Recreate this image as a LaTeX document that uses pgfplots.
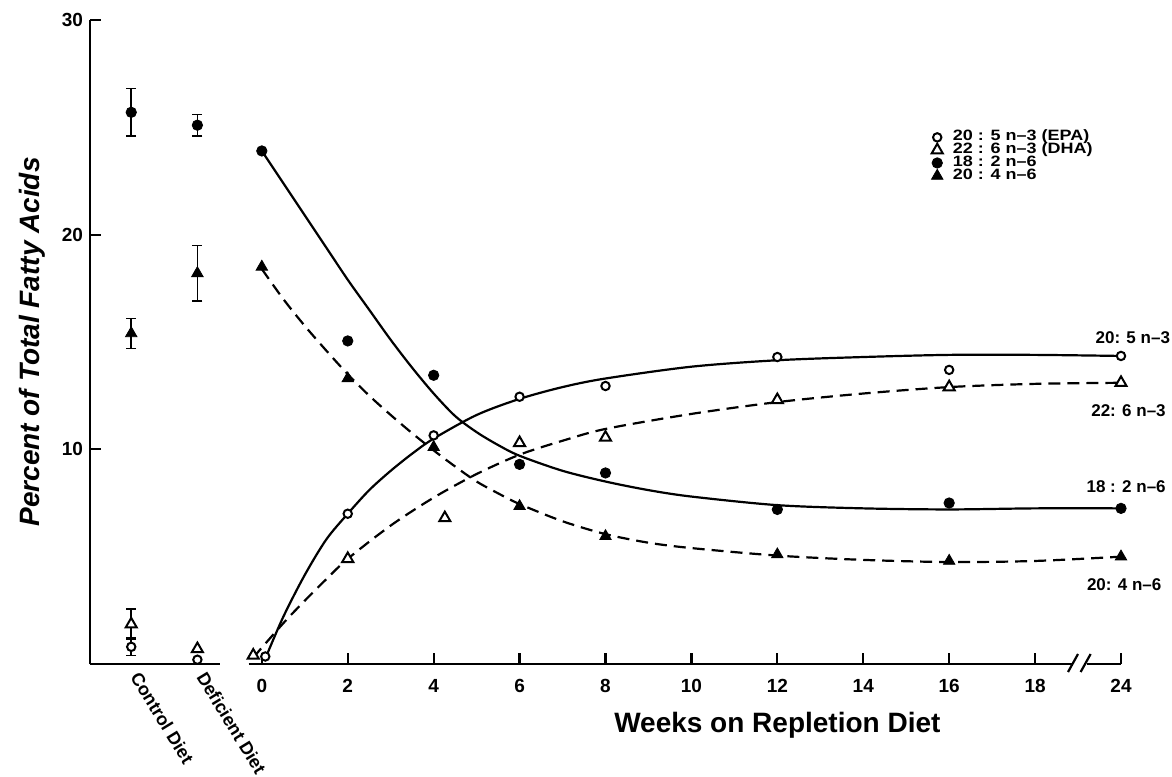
\documentclass[border=0pt]{standalone}
\usepackage{fontspec}
\setmainfont{Liberation Sans}
\newfontfamily\legfont[FakeStretch=1.2, Ligatures=TeX]{Liberation Sans}
\usepackage{pgfplots}
\pgfplotsset{compat=1.18}
\begin{document}
\begin{tikzpicture}
\useasboundingbox (-45pt,-56pt) rectangle (541pt,332pt);
\begin{axis}[
  scale only axis, width=515.5pt, height=322pt,
  xmin=-4, xmax=20, ymin=0, ymax=30,
  axis lines*=left,
  x axis line style={draw=none},
  y axis line style={line width=1.3pt},
  xtick={0,2,...,20}, xticklabels={0,2,4,6,8,10,12,14,16,18,24},
  ytick={10,20,30},
  tick align=inside, major tick length=5.5pt,
  tick style={line width=1.1pt, black},
  /pgf/number format/assume math mode=true,
  xticklabel style={font=\fontsize{9.5}{10}\selectfont\bfseries, yshift=-4pt},
  yticklabel style={font=\fontsize{9.5}{10}\selectfont\bfseries},
  xlabel={Weeks on Repletion Diet},
  xlabel style={at={(axis description cs:0.6667,0)}, anchor=center, yshift=-30.5pt, font=\fontsize{14}{16}\selectfont\bfseries},
  ylabel={Percent of Total Fatty Acids},
  ylabel style={at={(axis description cs:-0.0563,0.5)}, anchor=center, font=\fontsize{14}{16}\selectfont\bfseries\itshape},
  clip=false,
  legend image code/.code={\draw[#1] plot coordinates {(0.12cm,0cm)};},
  legend style={at={(axis cs:15.58,24.85)}, anchor=north west, draw=none, fill=none, inner sep=0pt,
    row sep=0pt, column sep=5pt,
    nodes={inner sep=0pt, text height=4.9pt, text depth=1.5pt}},
  legend cell align=left,
  ebar/.style={error bars/.cd, y dir=both, y explicit, error mark=-,
    error mark options={rotate=90, line width=0.8pt, mark size=2.5pt}, error bar style={line width=0.8pt}},
]
% x axis line with gap and break
\draw[line width=1.3pt] (axis cs:-4,0) -- (axis cs:-0.98,0);
\draw[line width=1.3pt] (axis cs:-0.31,0) -- (axis cs:18.86,0);
\draw[line width=1.3pt] (axis cs:19.2,0) -- (axis cs:20,0);
\draw[line width=1.1pt] (axis cs:18.86,0) ++(-2pt,-4pt) -- ++(5pt,9pt);
\draw[line width=1.1pt] (axis cs:19.2,0) ++(-3pt,-4pt) -- ++(5pt,9pt);

% fitted curves
\addplot[black, line width=1.1pt, smooth, forget plot] coordinates {
(0,23.9) (0.5,22.4) (1,20.9) (1.5,19.4) (2,17.9) (2.5,16.5) (3,15.1) (3.5,13.8) (4,12.6) (4.5,11.55) (5,10.8) (5.5,10.2) (6,9.7) (7,9.0) (8,8.5) (9,8.1) (10,7.8) (12,7.4) (14,7.25) (16,7.2) (18,7.25) (20,7.25)};
\addplot[black, line width=1.1pt, smooth, dash pattern=on 6pt off 3.5pt, forget plot] coordinates {
(0,18.4) (0.5,17.0) (1,15.75) (1.5,14.6) (2,13.5) (2.5,12.5) (3,11.6) (3.5,10.75) (4,9.95) (4.5,9.2) (5,8.5) (5.5,7.95) (6,7.45) (7,6.65) (8,6.05) (9,5.65) (10,5.4) (12,5.05) (14,4.85) (16,4.75) (18,4.8) (20,5.0)};
\addplot[black, line width=1.1pt, smooth, forget plot] coordinates {
(0.08,0.25) (0.5,2.2) (1,4.15) (1.5,5.8) (2,7.0) (2.5,8.1) (3,9.0) (3.5,9.8) (4,10.5) (5,11.6) (6,12.35) (7,12.9) (8,13.3) (10,13.85) (12,14.15) (14,14.3) (16,14.4) (18,14.4) (20,14.35)};
\addplot[black, line width=1.1pt, smooth, dash pattern=on 6pt off 3.5pt, forget plot] coordinates {
(-0.2,0.3) (0.5,1.9) (1,2.95) (1.5,3.95) (2,4.9) (3,6.45) (4,7.75) (5,8.85) (6,9.75) (7,10.4) (8,10.95) (10,11.65) (12,12.2) (14,12.6) (16,12.9) (18,13.05) (20,13.1)};

% control / deficient diet with error bars
\addplot[only marks, mark=*, mark size=2.6pt, black, forget plot, ebar]
  coordinates {(-3.04,25.7) +- (0,1.1) (-1.5,25.1) +- (0,0.5)};
\addplot[only marks, mark=triangle*, mark size=3.3pt, black, forget plot, ebar]
  coordinates {(-3.04,15.4) +- (0,0.7) (-1.5,18.2) +- (0,1.3)};
\addplot[only marks, mark=triangle*, mark size=3.2pt, black, mark options={fill=white, line width=1pt}, forget plot, ebar]
  coordinates {(-3.04,1.85) +- (0,0.7)};
\addplot[only marks, mark=*, mark size=2.1pt, black, mark options={fill=white, line width=1pt}, forget plot, ebar]
  coordinates {(-3.04,0.8) +- (0,0.4)};
\addplot[only marks, mark=triangle*, mark size=3.2pt, black, mark options={fill=white, line width=1pt}, forget plot]
  coordinates {(-1.5,0.7)};
\addplot[only marks, mark=*, mark size=2.1pt, black, mark options={fill=white, line width=1pt}, forget plot]
  coordinates {(-1.5,0.2)};

% repletion data points
\addplot[only marks, mark=*, mark size=2.1pt, black, mark options={fill=white, line width=1pt}, forget plot] coordinates {
(0.08,0.35) (2,7.0) (4,10.65) (6,12.45) (8,12.95) (12,14.3) (16,13.7) (20,14.35)};
\addplot[only marks, mark=triangle*, mark size=3.2pt, black, mark options={fill=white, line width=1pt}, forget plot] coordinates {
(-0.2,0.4) (2,4.9) (4.26,6.8) (6,10.3) (8,10.55) (12,12.3) (16,12.9) (20,13.1)};
\addplot[only marks, mark=*, mark size=2.6pt, black, forget plot] coordinates {
(0,23.9) (2,15.05) (4,13.45) (6,9.3) (8,8.9) (12,7.2) (16,7.5) (20,7.25)};
\addplot[only marks, mark=triangle*, mark size=3.3pt, black, forget plot] coordinates {
(0,18.5) (2,13.3) (4,10.1) (6,7.35) (8,5.95) (12,5.1) (16,4.8) (20,5.0)};

% legend
\addlegendimage{only marks, mark=*, mark size=2.1pt, black, mark options={fill=white, line width=1pt}}
\addlegendentry{\legfont\fontsize{7.5}{7.5}\selectfont\bfseries 20 : 5 n--3 (EPA)}
\addlegendimage{only marks, mark=triangle*, mark size=3.2pt, black, mark options={fill=white, line width=1pt}}
\addlegendentry{\legfont\fontsize{7.5}{7.5}\selectfont\bfseries 22 : 6 n--3 (DHA)}
\addlegendimage{only marks, mark=*, mark size=2.6pt, black}
\addlegendentry{\legfont\fontsize{7.5}{7.5}\selectfont\bfseries 18 : 2 n--6}
\addlegendimage{only marks, mark=triangle*, mark size=3.3pt, black}
\addlegendentry{\legfont\fontsize{7.5}{7.5}\selectfont\bfseries 20 : 4 n--6}

% category labels
\node[rotate=-58.6, anchor=north west, inner sep=0pt, font=\fontsize{9}{10}\selectfont\bfseries] at ([xshift=5pt,yshift=-3pt]axis cs:-3.04,0) {Control Diet};
\node[rotate=-58.6, anchor=north west, inner sep=0pt, font=\fontsize{9}{10}\selectfont\bfseries] at ([xshift=5pt,yshift=-3pt]axis cs:-1.5,0) {Deficient Diet};

% end labels
\node[anchor=west, font=\fontsize{8.5}{9}\selectfont\bfseries, inner sep=0pt] at (axis cs:19.4,15.2) {20: 5 n--3};
\node[anchor=west, font=\fontsize{8.5}{9}\selectfont\bfseries, inner sep=0pt] at (axis cs:19.3,11.8) {22: 6 n--3};
\node[anchor=west, font=\fontsize{8.5}{9}\selectfont\bfseries, inner sep=0pt] at (axis cs:19.19,8.25) {18 : 2 n--6};
\node[anchor=west, font=\fontsize{8.5}{9}\selectfont\bfseries, inner sep=0pt] at (axis cs:19.2,3.7) {20: 4 n--6};
\end{axis}
\end{tikzpicture}
\end{document}
